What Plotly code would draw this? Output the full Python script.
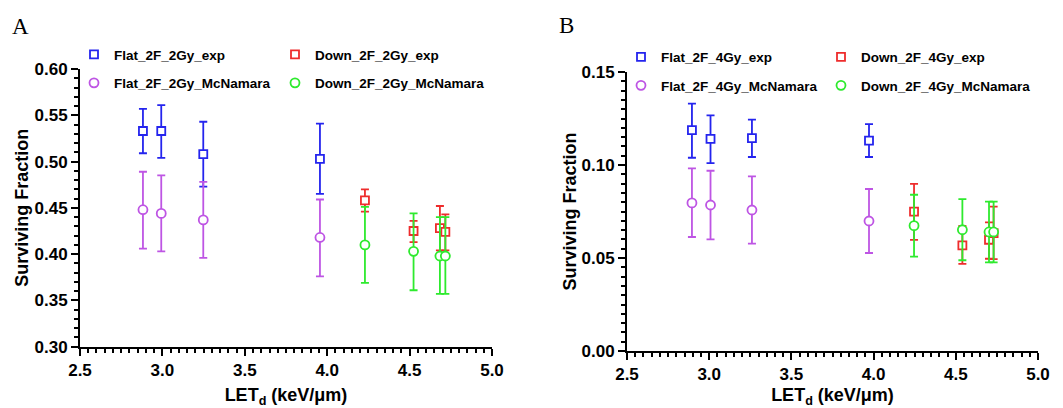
import plotly.graph_objects as go

# ---------------- data ----------------
# Panel A : 2 fractions x 2 Gy
a_flat_x = [2.882, 2.993, 3.248, 3.956]
a_flat_exp = [0.533, 0.533, 0.508, 0.503]
a_flat_exp_hi = [0.557, 0.561, 0.543, 0.541]
a_flat_exp_lo = [0.509, 0.504, 0.473, 0.465]
a_flat_mc = [0.448, 0.444, 0.437, 0.418]
a_flat_mc_hi = [0.489, 0.485, 0.478, 0.459]
a_flat_mc_lo = [0.406, 0.403, 0.396, 0.376]

a_down_x = [4.229, 4.524, 4.684, 4.717]
a_down_exp = [0.458, 0.425, 0.428, 0.424]
a_down_exp_hi = [0.470, 0.436, 0.452, 0.443]
a_down_exp_lo = [0.446, 0.413, 0.404, 0.404]
a_down_mc = [0.410, 0.403, 0.398, 0.398]
a_down_mc_hi = [0.451, 0.444, 0.440, 0.440]
a_down_mc_lo = [0.369, 0.361, 0.357, 0.357]

# Panel B : 2 fractions x 4 Gy
b_flat_x = [2.895, 3.008, 3.260, 3.972]
b_flat_exp = [0.1187, 0.1140, 0.1145, 0.1131]
b_flat_exp_hi = [0.1330, 0.1267, 0.1244, 0.1220]
b_flat_exp_lo = [0.1039, 0.1010, 0.1043, 0.1043]
b_flat_mc = [0.0796, 0.0785, 0.0758, 0.0699]
b_flat_mc_hi = [0.0982, 0.0969, 0.0939, 0.0871]
b_flat_mc_lo = [0.0613, 0.0600, 0.0577, 0.0527]

b_down_x = [4.246, 4.540, 4.702, 4.730]
b_down_exp = [0.0749, 0.0568, 0.0598, 0.0634]
b_down_exp_hi = [0.0898, 0.0672, 0.0692, 0.0776]
b_down_exp_lo = [0.0597, 0.0468, 0.0496, 0.0494]
b_down_mc = [0.0674, 0.0652, 0.0640, 0.0640]
b_down_mc_hi = [0.0840, 0.0817, 0.0803, 0.0803]
b_down_mc_lo = [0.0507, 0.0488, 0.0477, 0.0477]

x_ticks = [2.5, 3.0, 3.5, 4.0, 4.5, 5.0]
a_y_ticks = [0.30, 0.35, 0.40, 0.45, 0.50, 0.55, 0.60]
b_y_ticks = [0.00, 0.05, 0.10, 0.15]

# ---------------- style ----------------
BLUE = "#2424EE"
PURPLE = "#BE55E4"
RED = "#EE2C2C"
GREEN = "#2EEA2E"
FONT = "Arial, Liberation Sans, sans-serif"
W, H = 1063, 408

fig = go.Figure()


def add_series(name, x, y, hi, lo, color, symbol, xa, ya, legend, group):
    fig.add_trace(go.Scatter(
        x=x, y=y, mode="markers", name=name,
        xaxis=xa, yaxis=ya, legend=legend, legendgroup=group,
        marker=dict(symbol=symbol, size=9 if symbol == "circle" else 8,
                    color="white",
                    line=dict(color=color, width=1.8)),
        error_y=dict(type="data", symmetric=False,
                     array=[h - v for h, v in zip(hi, y)],
                     arrayminus=[v - l for v, l in zip(y, lo)],
                     color=color, thickness=1.8, width=4),
    ))


add_series("Flat_2F_2Gy_exp", a_flat_x, a_flat_exp, a_flat_exp_hi, a_flat_exp_lo,
           BLUE, "square", "x", "y", "legend", "g1")
add_series("Flat_2F_2Gy_McNamara", a_flat_x, a_flat_mc, a_flat_mc_hi, a_flat_mc_lo,
           PURPLE, "circle", "x", "y", "legend", "g2")
add_series("Down_2F_2Gy_exp", a_down_x, a_down_exp, a_down_exp_hi, a_down_exp_lo,
           RED, "square", "x", "y", "legend2", "g3")
add_series("Down_2F_2Gy_McNamara", a_down_x, a_down_mc, a_down_mc_hi, a_down_mc_lo,
           GREEN, "circle", "x", "y", "legend2", "g4")

add_series("Flat_2F_4Gy_exp", b_flat_x, b_flat_exp, b_flat_exp_hi, b_flat_exp_lo,
           BLUE, "square", "x2", "y2", "legend3", "g5")
add_series("Flat_2F_4Gy_McNamara", b_flat_x, b_flat_mc, b_flat_mc_hi, b_flat_mc_lo,
           PURPLE, "circle", "x2", "y2", "legend3", "g6")
add_series("Down_2F_4Gy_exp", b_down_x, b_down_exp, b_down_exp_hi, b_down_exp_lo,
           RED, "square", "x2", "y2", "legend4", "g7")
add_series("Down_2F_4Gy_McNamara", b_down_x, b_down_mc, b_down_mc_hi, b_down_mc_lo,
           GREEN, "circle", "x2", "y2", "legend4", "g8")


def px_x(p):
    return p / W


def px_y(p):
    return 1 - p / H


axis_common = dict(
    showline=True, linecolor="black", linewidth=2, mirror=False,
    showgrid=False, zeroline=False,
    ticks="outside", ticklen=7, tickwidth=2, tickcolor="black",
    tickfont=dict(family=FONT, size=17, color="black", weight="bold"),
    automargin=False,
)

xtitle = dict(text="LET<sub>d</sub> (keV/μm)",
              font=dict(family=FONT, size=18, color="black", weight="bold"),
              standoff=10)


def ytitle(standoff):
    return dict(text="Surviving Fraction",
                font=dict(family=FONT, size=18, color="black", weight="bold"),
                standoff=standoff)


fig.update_layout(
    xaxis=dict(axis_common, domain=[px_x(80), px_x(492)], range=[2.5, 5.0],
               tickvals=x_ticks, ticktext=[f"{v:.1f}" for v in x_ticks],
               minor=dict(dtick=0.05, tick0=2.5, ticks="outside", ticklen=4,
                          tickwidth=1.5, tickcolor="black"),
               anchor="y", title=xtitle),
    yaxis=dict(axis_common, domain=[px_y(346.7), px_y(69)], range=[0.30, 0.60],
               tickvals=a_y_ticks, ticktext=[f"{v:.2f}" for v in a_y_ticks],
               minor=dict(dtick=0.01, tick0=0.30, ticks="outside", ticklen=4,
                          tickwidth=1.5, tickcolor="black"),
               anchor="x", title=ytitle(1)),
    xaxis2=dict(axis_common, domain=[px_x(627), px_x(1038)], range=[2.5, 5.0],
                tickvals=x_ticks, ticktext=[f"{v:.1f}" for v in x_ticks],
                minor=dict(dtick=0.05, tick0=2.5, ticks="outside", ticklen=4,
                           tickwidth=1.5, tickcolor="black"),
                anchor="y2", title=xtitle),
    yaxis2=dict(axis_common, domain=[px_y(351), px_y(72)], range=[0.0, 0.15],
                tickvals=b_y_ticks, ticktext=[f"{v:.2f}" for v in b_y_ticks],
                minor=dict(dtick=0.005, tick0=0.0, ticks="outside", ticklen=4,
                           tickwidth=1.5, tickcolor="black"),
                anchor="x2", title=ytitle(0)),
)

legend_common = dict(
    orientation="v", xanchor="left", yanchor="top",
    bgcolor="rgba(0,0,0,0)", borderwidth=0, tracegroupgap=8,
    font=dict(family=FONT, size=13.5, color="black", weight="bold"),
    itemclick=False, itemdoubleclick=False,
)

fig.update_layout(
    legend=dict(legend_common, x=px_x(74), y=px_y(39)),
    legend2=dict(legend_common, x=px_x(275), y=px_y(39)),
    legend3=dict(legend_common, x=px_x(621), y=px_y(41.5)),
    legend4=dict(legend_common, x=px_x(821), y=px_y(41.5)),
    showlegend=True,
    width=W, height=H,
    margin=dict(l=0, r=0, t=0, b=0),
    paper_bgcolor="white", plot_bgcolor="white",
    annotations=[
        dict(text="A", x=px_x(20.5), y=px_y(26.5), xref="paper", yref="paper",
             showarrow=False, xanchor="center", yanchor="middle",
             font=dict(family="Liberation Serif, Times New Roman, serif",
                       size=23, color="black")),
        dict(text="B", x=px_x(566), y=px_y(25.5), xref="paper", yref="paper",
             showarrow=False, xanchor="center", yanchor="middle",
             font=dict(family="Liberation Serif, Times New Roman, serif",
                       size=23, color="black")),
    ],
)

fig.write_html(
    "out.html",
    config={"displayModeBar": False},
    post_script="document.body.style.margin='0';document.body.style.padding='0';",
)
